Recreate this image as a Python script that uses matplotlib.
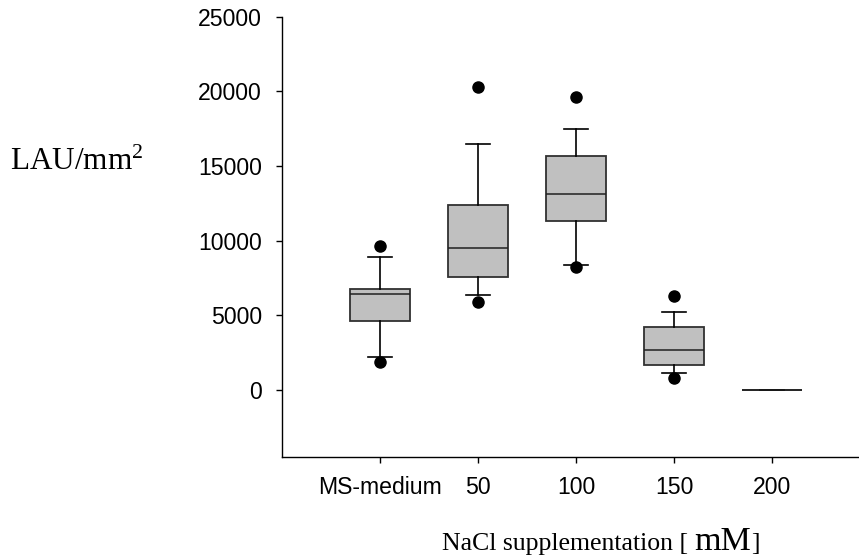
import numpy as np
import matplotlib
matplotlib.use('Agg')
import matplotlib.pyplot as plt

plt.rcParams['font.family'] = ['Liberation Sans', 'DejaVu Sans']
plt.rcParams['mathtext.fontset'] = 'custom'
plt.rcParams['mathtext.rm'] = 'Liberation Serif'
plt.rcParams['mathtext.it'] = 'Liberation Serif:italic'

# data
groups = ['MS-medium', '50', '100', '150', '200']
q1 = [4620, 7550, 11330, 1710, 0]
med = [6440, 9490, 13160, 2690, 0]
q3 = [6780, 12400, 15690, 4240, 0]
whis_lo = [2200, 6360, 8400, 1160, 0]
whis_hi = [8930, 16490, 17490, 5200, 0]
outliers = [[9620, 1850], [20270, 5910], [19640, 8220], [6290, 820], []]
yticks = [0, 5000, 10000, 15000, 20000, 25000]

stats = []
for i, g in enumerate(groups):
    stats.append(dict(label=g, q1=q1[i], med=med[i], q3=q3[i],
                      whislo=whis_lo[i], whishi=whis_hi[i],
                      fliers=outliers[i]))

fig = plt.figure(figsize=(8.59, 5.57), dpi=100)
ax = fig.add_axes([282/859, 1 - 457.3/557, 1 - 282/859, (457.3 - 16.7)/557])

ax.bxp(stats, positions=range(1, 6), widths=0.61, capwidths=0.25,
       patch_artist=True, showfliers=True,
       boxprops=dict(facecolor='#c0c0c0', edgecolor='#303030', linewidth=1.3),
       medianprops=dict(color='#202020', linewidth=1.1),
       whiskerprops=dict(color='black', linewidth=1.2),
       capprops=dict(color='black', linewidth=1.2),
       flierprops=dict(marker='o', markerfacecolor='black',
                       markeredgecolor='black', markersize=8))

ax.set_xlim(0, 5.885)
ax.set_ylim(-4500, 25000)
ax.set_yticks(yticks)
ax.set_yticklabels([str(t) for t in yticks])
ax.set_xticks(range(1, 6))
ax.set_xticklabels(groups)

for s in ['top', 'right']:
    ax.spines[s].set_visible(False)
for s in ['left', 'bottom']:
    ax.spines[s].set_linewidth(1.0)

ax.tick_params(axis='y', direction='out', length=4.5, width=1.0,
               pad=10, labelsize=16.6)
ax.tick_params(axis='x', direction='out', length=4, width=1.0,
               pad=9.5, labelsize=16.6)

# y label
fig.text(10/859, 1 - 170/557, r'LAU/mm$^{2}$', fontsize=22.5,
         family='Liberation Serif', ha='left', va='baseline')

# x label with larger unit
fig.canvas.draw()
r = fig.canvas.get_renderer()
y_base = 1 - 550/557
t1 = fig.text(442/859, y_base, 'NaCl supplementation [ ', fontsize=18.5,
              family='Liberation Serif', ha='left', va='baseline')
x1 = t1.get_window_extent(r).x1
t2 = fig.text(x1/859, y_base, 'mM', fontsize=24.5,
              family='Liberation Serif', ha='left', va='baseline')
x2 = t2.get_window_extent(r).x1
fig.text(x2/859, y_base, ']', fontsize=18.5,
         family='Liberation Serif', ha='left', va='baseline')

fig.savefig('out.png', dpi=100)
